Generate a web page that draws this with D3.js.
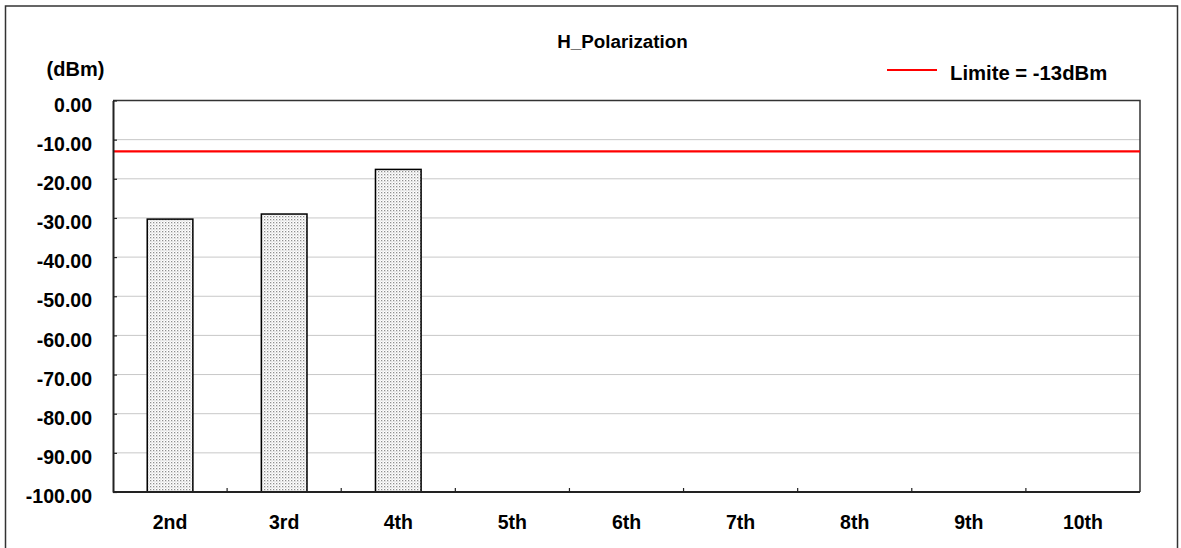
<!DOCTYPE html>
<html>
<head>
<meta charset="utf-8">
<script src="https://cdn.jsdelivr.net/npm/d3@7"></script>
<style>
  html, body { margin: 0; padding: 0; background: #fff; }
  svg text { font-family: "Liberation Sans", Arial, sans-serif; font-weight: bold; fill: #000; }
</style>
</head>
<body>
<svg id="chart" width="1181" height="548"></svg>
<script>
// Harmonic emission levels (dBm); empty harmonics have no measurement
const harmonics = ["2nd", "3rd", "4th", "5th", "6th", "7th", "8th", "9th", "10th"];
const levels = [-30.3, -29.0, -17.6, null, null, null, null, null, null];
const yTicks = [0, -10, -20, -30, -40, -50, -60, -70, -80, -90, -100];
const limitValue = -13;
const chartTitle = "H_Polarization";
const unitLabel = "(dBm)";
const legendLabel = "Limite = -13dBm";

const svg = d3.select("#chart");
const plot = { left: 113, top: 100.5, right: 1140, bottom: 492 };

// patterned fill for the bars
const defs = svg.append("defs");
const pat = defs.append("pattern")
  .attr("id", "dots").attr("patternUnits", "userSpaceOnUse")
  .attr("width", 3).attr("height", 3);
pat.append("rect").attr("width", 3).attr("height", 3).attr("fill", "#fff");
pat.append("rect").attr("x", 0).attr("y", 0).attr("width", 1.3).attr("height", 1.3).attr("fill", "#8e8e8e");
pat.append("rect").attr("x", 1.5).attr("y", 1.5).attr("width", 1).attr("height", 1).attr("fill", "#b8b8b8");

// outer chart frame
svg.append("rect").attr("x", 5.5).attr("y", 6).attr("width", 1172).attr("height", 580)
  .attr("fill", "none").attr("stroke", "#333").attr("stroke-width", 1.5);

const x = d3.scaleBand().domain(harmonics).range([plot.left, plot.right]).paddingInner(0).paddingOuter(0);
const y = d3.scaleLinear().domain([-100, 0]).range([plot.bottom, plot.top]);

// horizontal gridlines
svg.append("g").selectAll("line").data(yTicks.filter(d => d !== 0 && d !== -100)).join("line")
  .attr("x1", plot.left).attr("x2", plot.right)
  .attr("y1", d => y(d)).attr("y2", d => y(d))
  .attr("stroke", "#c8c8c8").attr("stroke-width", 1);

// plot frame (top and right)
svg.append("path")
  .attr("d", `M${plot.left},${plot.top}H${plot.right}V${plot.bottom}`)
  .attr("fill", "none").attr("stroke", "#333").attr("stroke-width", 1.5);

// bars from the -100 baseline
const barW = x.bandwidth() * 0.4;
svg.append("g").selectAll("rect").data(harmonics.map((h, i) => ({ h, v: levels[i] })).filter(d => d.v !== null))
  .join("rect")
  .attr("x", d => x(d.h) + (x.bandwidth() - barW) / 2)
  .attr("width", barW)
  .attr("y", d => y(d.v))
  .attr("height", d => y(-100) - y(d.v))
  .attr("fill", "url(#dots)")
  .attr("stroke", "#000").attr("stroke-width", 1.5);

// limit line
svg.append("line")
  .attr("x1", plot.left).attr("x2", plot.right)
  .attr("y1", y(limitValue)).attr("y2", y(limitValue))
  .attr("stroke", "#ff0000").attr("stroke-width", 2.2);

// y axis
const fmt = d3.format(".2f");
const yAxis = d3.axisLeft(y).tickValues(yTicks).tickSizeInner(-4).tickSizeOuter(0)
  .tickFormat(d => fmt(d).replace("\u2212", "-")).tickPadding(21);
const gy = svg.append("g").attr("transform", `translate(${plot.left},0)`).call(yAxis);
gy.select(".domain").attr("stroke", "#222").attr("stroke-width", 2);
gy.selectAll(".tick line").attr("stroke", "#222").attr("stroke-width", 1.2);
gy.selectAll(".tick text").attr("font-size", 19.5).attr("dy", "0.55em")
  .attr("font-family", "'Liberation Sans', Arial, sans-serif").attr("font-weight", "bold").attr("fill", "#000");

// x axis: ticks at category boundaries
const gx = svg.append("g").attr("transform", `translate(0,${plot.bottom})`);
gx.append("line").attr("x1", plot.left).attr("x2", plot.right).attr("stroke", "#222").attr("stroke-width", 2);
gx.selectAll(".bnd").data(harmonics.slice(1)).join("line").attr("class", "bnd")
  .attr("x1", d => x(d)).attr("x2", d => x(d)).attr("y1", 0).attr("y2", -4)
  .attr("stroke", "#222").attr("stroke-width", 1.2);
gx.selectAll("text").data(harmonics).join("text")
  .attr("x", d => x(d) + x.bandwidth() / 2).attr("y", 37)
  .attr("text-anchor", "middle").attr("font-size", 19.5)
  .text(d => d);

// title, unit label, legend
svg.append("text").attr("x", 622.5).attr("y", 47.5).attr("text-anchor", "middle")
  .attr("font-size", 18.8).text(chartTitle);
svg.append("text").attr("x", 75.5).attr("y", 76).attr("text-anchor", "middle")
  .attr("font-size", 20).text(unitLabel);
svg.append("line").attr("x1", 887).attr("x2", 937).attr("y1", 70).attr("y2", 70)
  .attr("stroke", "#ff0000").attr("stroke-width", 2.2);
svg.append("text").attr("x", 950).attr("y", 80).attr("font-size", 20.3).text(legendLabel);
</script>
</body>
</html>
